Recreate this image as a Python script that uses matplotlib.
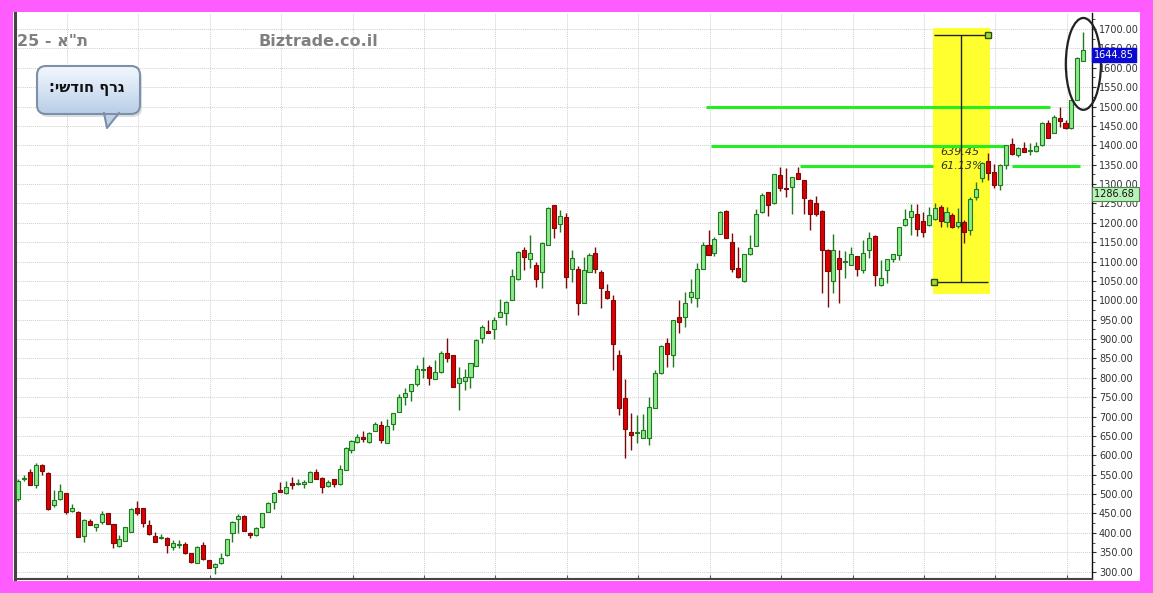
import numpy as np
import matplotlib
matplotlib.use('Agg')
import matplotlib.pyplot as plt
from matplotlib.patches import Rectangle, FancyBboxPatch, Polygon, Ellipse
from matplotlib.transforms import blended_transform_factory
from matplotlib.ticker import MultipleLocator, FormatStrFormatter

# monthly candles, TA-25
opens = [487, 540, 556, 523, 576, 555, 471, 487, 502, 457, 455, 393, 431, 416, 429, 450, 422, 366, 380, 403,
         465, 463, 420, 392, 388, 388, 364, 370, 371, 347, 323, 369, 329, 311, 321, 342, 399, 437, 443, 399,
         394, 414, 455, 480, 511, 502, 528, 525, 526, 532, 558, 542, 522, 538, 525, 562, 615, 635, 648, 634,
         664, 678, 633, 681, 713, 751, 767, 784, 821, 827, 797, 814, 865, 858, 786, 793, 803, 831, 902, 920,
         925, 958, 966, 1002, 1055, 1130, 1107, 1091, 1074, 1143, 1246, 1196, 1214, 1082, 1081, 994, 1074, 1123, 1074, 1024,
         1002, 859, 747, 661, 657, 645, 644, 723, 812, 889, 860, 958, 958, 1008, 1007, 1082, 1143, 1121, 1171, 1231,
         1151, 1084, 1050, 1119, 1140, 1227, 1279, 1250, 1323, 1289, 1292, 1328, 1310, 1260, 1250, 1231, 1131, 1051, 1110, 1100,
         1091, 1114, 1078, 1130, 1166, 1039, 1078, 1106, 1117, 1194, 1216, 1224, 1205, 1194, 1210, 1240, 1203, 1220, 1192, 1203,
         1181, 1267, 1315, 1359, 1332, 1297, 1349, 1403, 1375, 1392, 1386, 1386, 1401, 1457, 1432, 1471, 1458, 1444, 1518, 1618]
highs = [538, 550, 564, 579, 578, 558, 510, 526, 503, 474, 457, 435, 436, 424, 456, 451, 423, 394, 416, 463,
         482, 464, 433, 403, 396, 390, 381, 381, 376, 348, 366, 377, 330, 323, 347, 385, 430, 449, 447, 403,
         416, 451, 479, 505, 532, 535, 543, 538, 536, 559, 564, 543, 536, 539, 575, 622, 640, 655, 663, 661,
         687, 689, 695, 709, 758, 773, 785, 833, 853, 833, 846, 868, 902, 859, 829, 824, 838, 899, 936, 949,
         958, 1004, 997, 1080, 1126, 1138, 1168, 1100, 1151, 1242, 1247, 1233, 1226, 1131, 1088, 1111, 1121, 1137, 1078, 1041,
         1014, 872, 796, 710, 704, 706, 750, 820, 885, 904, 949, 1001, 1022, 1054, 1097, 1151, 1181, 1163, 1230, 1233,
         1173, 1137, 1119, 1168, 1235, 1278, 1280, 1326, 1343, 1341, 1319, 1343, 1311, 1261, 1269, 1233, 1132, 1171, 1130, 1127,
         1138, 1115, 1156, 1177, 1168, 1104, 1107, 1120, 1189, 1235, 1248, 1248, 1229, 1240, 1252, 1246, 1240, 1226, 1237, 1207,
         1267, 1306, 1358, 1379, 1353, 1353, 1401, 1420, 1396, 1409, 1405, 1409, 1461, 1465, 1478, 1498, 1465, 1517, 1629, 1693]
lows = [482, 535, 523, 516, 549, 459, 466, 485, 449, 455, 390, 377, 421, 405, 423, 424, 360, 364, 379, 402,
        446, 414, 395, 376, 383, 349, 356, 360, 346, 323, 322, 331, 309, 295, 319, 341, 377, 399, 405, 386,
        393, 413, 454, 461, 505, 501, 512, 524, 515, 531, 538, 504, 519, 518, 524, 561, 607, 631, 635, 633,
        663, 631, 631, 665, 712, 730, 741, 779, 799, 781, 796, 813, 842, 777, 717, 769, 775, 830, 889, 915,
        900, 957, 937, 1001, 1052, 1078, 1083, 1035, 1031, 1142, 1160, 1177, 1031, 1048, 962, 993, 1073, 1070, 979, 1004,
        820, 704, 592, 615, 631, 644, 628, 722, 811, 827, 829, 915, 932, 994, 984, 1081, 1116, 1114, 1170, 1161,
        1074, 1058, 1048, 1118, 1139, 1226, 1218, 1249, 1283, 1267, 1224, 1312, 1224, 1181, 1218, 1020, 984, 1018, 994, 1057,
        1090, 1063, 1071, 1108, 1037, 1037, 1045, 1100, 1104, 1192, 1168, 1166, 1164, 1192, 1207, 1188, 1190, 1186, 1186, 1147,
        1168, 1259, 1306, 1310, 1289, 1285, 1340, 1375, 1371, 1382, 1375, 1383, 1399, 1420, 1431, 1448, 1443, 1443, 1517, 1617]
closes = [534, 541, 523, 575, 560, 462, 485, 508, 455, 465, 390, 433, 421, 424, 449, 424, 373, 383, 414, 461,
          452, 426, 396, 377, 390, 370, 375, 372, 347, 324, 364, 332, 310, 320, 334, 384, 429, 444, 406, 394,
          413, 450, 476, 504, 506, 519, 523, 529, 532, 558, 539, 519, 532, 526, 564, 618, 637, 648, 641, 657,
          681, 640, 677, 708, 751, 762, 784, 822, 822, 800, 814, 865, 850, 777, 800, 803, 837, 898, 930, 915,
          949, 971, 996, 1063, 1125, 1113, 1121, 1055, 1147, 1237, 1186, 1217, 1059, 1108, 994, 1078, 1117, 1082, 1033, 1005,
          887, 723, 667, 653, 660, 665, 726, 813, 882, 861, 949, 945, 994, 1021, 1080, 1143, 1117, 1158, 1227, 1162,
          1082, 1059, 1119, 1134, 1224, 1273, 1246, 1326, 1289, 1287, 1319, 1312, 1265, 1223, 1223, 1131, 1076, 1131, 1080, 1102,
          1119, 1080, 1123, 1162, 1065, 1057, 1106, 1119, 1188, 1211, 1230, 1184, 1177, 1220, 1237, 1205, 1229, 1190, 1203, 1175,
          1261, 1287, 1355, 1329, 1297, 1349, 1401, 1377, 1392, 1383, 1388, 1399, 1457, 1420, 1474, 1463, 1444, 1517, 1624, 1644.85]

last_price = 1644.85
avg_price = 1286.68
measure_low = 1046.05
measure_high = 1685.50
level_lines = [1500, 1398, 1347]

W, H = 1153, 593
fig = plt.figure(figsize=(W / 100, H / 100), dpi=100)
fig.patch.set_facecolor('#ff5cff')

# overlay in image pixels (origin top-left) for the frame, header and bubble
ov = fig.add_axes([0, 0, 1, 1], zorder=0)
ov.set_xlim(0, W)
ov.set_ylim(H, 0)
ov.axis('off')
ov.add_patch(Rectangle((13, 12), 1127, 569, fc='white', ec='none'))

ax = fig.add_axes([15 / W, 1 - 579 / H, 1077 / W, 566 / H], zorder=1)
ax.set_facecolor('white')
ax.set_xlim(-0.55, 180.45)
ax.set_ylim(281, 1741.3)

o = np.array(opens, float)
h = np.array(highs, float)
l = np.array(lows, float)
c = np.array(closes, float)
x = np.arange(len(o))
up = c >= o
body_lo = np.minimum(o, c)
body_h = np.maximum(np.abs(c - o), 2.0)

for mask, fc, ec in [(up, '#8ee88e', '#1d7a1d'), (~up, '#dd0000', '#7a0a0a')]:
    ax.vlines(x[mask], l[mask], h[mask], color=ec, lw=1, zorder=4)
    ax.bar(x[mask], body_h[mask], bottom=body_lo[mask], width=0.68,
           color=fc, edgecolor=ec, linewidth=0.8, zorder=5)

# yellow measuring box
ax.add_patch(Rectangle((153.7, 1016), 9.6, 687, fc='#ffff30', ec='none', zorder=1))
ax.vlines(158.4, measure_low, measure_high, color='#222222', lw=1, zorder=6)
ax.hlines([measure_high, measure_low], 153.9, 162.9, color='#222222', lw=1, zorder=6)
ax.plot([162.9, 153.9], [measure_high, measure_low], 's', ms=5, mfc='#a6d63c',
        mec='#2f4f00', mew=1, zorder=7)
ax.text(154.9, 1383, f'{measure_high - measure_low:.2f}', style='italic', fontsize=8,
        color='#333320', va='center', zorder=3)
ax.text(154.9, 1346, f'{(measure_high / measure_low - 1) * 100:.2f}%', style='italic',
        fontsize=8, color='#333320', va='center', zorder=3)

# green level lines
gcol = '#22ee22'
ax.hlines(level_lines[0], 115.6, 173.4, color=gcol, lw=2.2, zorder=3)
ax.hlines(level_lines[1], 116.4, 166.2, color=gcol, lw=2.2, zorder=3)
ax.hlines(level_lines[2], 131.4, 153.7, color=gcol, lw=2.2, zorder=3)
ax.hlines(level_lines[2], 167.0, 178.4, color=gcol, lw=2.2, zorder=3)

ax.add_patch(Ellipse((179.0, 1610), 5.9, 237, fill=False, ec='#222222', lw=1.6,
                     zorder=8, clip_on=False))

# axes styling
ax.yaxis.tick_right()
ax.yaxis.set_major_locator(MultipleLocator(50))
ax.yaxis.set_minor_locator(MultipleLocator(25))
ax.yaxis.set_major_formatter(FormatStrFormatter('%.2f'))
ax.tick_params(axis='y', which='major', length=3, width=0.8, color='#333333',
               labelsize=7, labelcolor='#333333', pad=2)
ax.tick_params(axis='y', which='minor', length=2, width=0.6, color='#333333')
ax.set_xticks(8.2 + 12 * np.arange(15))
ax.set_xticklabels([])
ax.tick_params(axis='x', direction='in', length=3, color='#555555')
ax.grid(True, which='major', color='#d0d0d0', lw=0.7, ls=(0, (1, 1)))
ax.set_axisbelow(True)
ax.spines['top'].set_visible(False)
ax.spines['left'].set_color('#444444')
ax.spines['left'].set_linewidth(2.2)
ax.spines['bottom'].set_color('#444444')
ax.spines['bottom'].set_linewidth(1.5)
ax.spines['right'].set_color('#111111')
ax.spines['right'].set_linewidth(1)

# price tags on the right axis
blend = blended_transform_factory(ax.transAxes, ax.transData)
ax.text(1.002, last_price, f'{last_price:.2f}', transform=blend, ha='left', va='top',
        fontsize=7, color='white', zorder=10, clip_on=False,
        bbox=dict(boxstyle='square,pad=0.2', fc='#0a0ad0', ec='#0a0ad0'))
ax.text(1.002, avg_price, f'{avg_price:.2f} ', transform=blend, ha='left', va='top',
        fontsize=7, color='#111111', zorder=10, clip_on=False,
        bbox=dict(boxstyle='square,pad=0.2', fc='#b8f2b8', ec='#4a8a4a', lw=0.8))

# header texts and speech bubble go on a top overlay
top = fig.add_axes([0, 0, 1, 1], zorder=2)
top.set_xlim(0, W)
top.set_ylim(H, 0)
top.axis('off')
top.text(17, 41, '25 - א"ת', fontsize=11.5, fontweight='bold',
         color='#808080', va='center', ha='left')
top.text(258, 41, 'Biztrade.co.il', fontsize=11.5, fontweight='bold',
         color='#808080', va='center', ha='left')

top.add_patch(FancyBboxPatch((39, 69), 103, 48, boxstyle='round,pad=0,rounding_size=9',
                             fc='#9aa6b4', ec='none', alpha=0.35))
bubble = FancyBboxPatch((37, 66), 103, 48, boxstyle='round,pad=0,rounding_size=9',
                        fc='none', ec='#7d90a8', lw=1.5, zorder=4)
top.add_patch(bubble)
grad = np.linspace(0, 1, 64).reshape(-1, 1)
cmap = matplotlib.colors.LinearSegmentedColormap.from_list('bub', ['#f2f7fd', '#d6e4f4', '#b9cde6'])
im = top.imshow(grad, cmap=cmap, extent=(37, 140, 114, 66), aspect='auto', zorder=3)
im.set_clip_path(bubble)
top.add_patch(Polygon([(104, 112), (107, 128), (119, 112)], closed=True,
                      fc='#bdd0e8', ec='none', zorder=3))
top.plot([104, 107, 119], [113, 128, 113], color='#7d90a8', lw=1.5, zorder=4)
top.set_xlim(0, W)
top.set_ylim(H, 0)
top.text(87, 89, ':ישדוח ףרג', fontsize=10.5, fontweight='bold',
         color='#111111', va='center', ha='center', zorder=5)

fig.savefig('out.png', dpi=100, facecolor=fig.get_facecolor())
